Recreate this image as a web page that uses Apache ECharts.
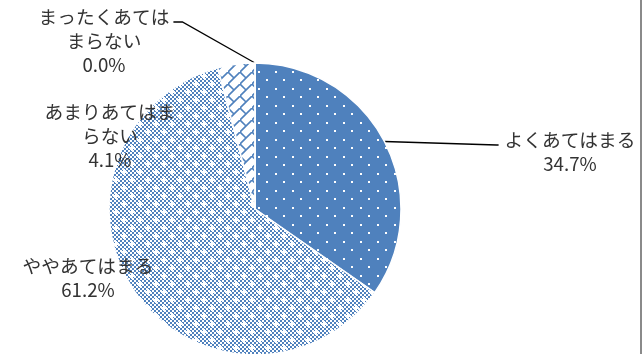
<!DOCTYPE html>
<html>
<head>
<meta charset="utf-8">
<script src="https://cdn.jsdelivr.net/npm/echarts@6/dist/echarts.min.js"></script>
<style>
html, body { margin: 0; padding: 0; background: #fff; }
#chart { width: 643px; height: 354px; }
</style>
</head>
<body>
<div id="chart"></div>
<script>
// 回答の分類と割合(%)
var categories = ['よくあてはまる', 'ややあてはまる', 'あまりあてはまらない', 'まったくあてはまらない'];
var labelText = ['よくあてはまる', 'ややあてはまる', 'あまりあてはま\nらない', 'まったくあては\nまらない'];
var values = [34.7, 61.2, 4.1, 0.0];

var BLUE = '#4f81bd';

// small canvas tiles used as pattern fills
function makeTile(w, h, draw) {
  var c = document.createElement('canvas');
  c.width = w;
  c.height = h;
  draw(c.getContext('2d'), w, h);
  return { image: c, repeat: 'repeat' };
}

var dots = makeTile(17, 17, function (g, w, h) {
  g.fillStyle = BLUE;
  g.fillRect(0, 0, w, h);
  g.fillStyle = '#fff';
  g.fillRect(3, 3, 2, 2);
  g.fillRect(11, 11, 2, 2);
});

var checker = makeTile(16, 16, function (g, w, h) {
  g.fillStyle = '#fff';
  g.fillRect(0, 0, w, h);
  g.fillStyle = BLUE;
  for (var y = 0; y < h; y += 2) {
    for (var x = 0; x < w; x += 2) {
      if (((x + y) / 2) % 2 === 0) g.fillRect(x, y, 2, 2);
    }
  }
  g.fillStyle = '#fff';
  [[4, 4], [12, 12]].forEach(function (p) {
    g.fillRect(p[0] - 1, p[1] - 3, 2, 6);
    g.fillRect(p[0] - 3, p[1] - 1, 6, 2);
  });
});

var brick = makeTile(12, 12, function (g, w, h) {
  g.fillStyle = '#fff';
  g.fillRect(0, 0, w, h);
  g.strokeStyle = BLUE;
  g.lineWidth = 1.6;
  g.beginPath();
  g.moveTo(-1, 13); g.lineTo(13, -1);
  g.moveTo(0, 0); g.lineTo(6, 6);
  g.moveTo(12, 12); g.lineTo(13, 13);
  g.stroke();
});

var fills = [dots, checker, brick, brick];
var showLine = [true, false, false, true];
// label block centres
var labelPos = [[570, 152], [88, 278], [110, 136], [104, 41]];

var chart = echarts.init(document.getElementById('chart'));

chart.setOption({
  animation: false,
  backgroundColor: '#fff',
  graphic: [
    { type: 'rect', shape: { x: 640, y: 0, width: 2, height: 354 }, style: { fill: '#8a8a8a' } }
  ],
  series: [
    {
      type: 'pie',
      center: [255, 209],
      radius: 146,
      startAngle: 90,
      clockwise: true,
      avoidLabelOverlap: false,
      itemStyle: { borderColor: '#fff', borderWidth: 1.5 },
      emphasis: { disabled: true },
      label: {
        show: true,
        position: 'outside',
        formatter: function (p) {
          return labelText[p.dataIndex] + '\n' + p.value.toFixed(1) + '%';
        },
        color: '#333',
        fontSize: 18.7,
        lineHeight: 24,
        fontFamily: 'Noto Sans CJK JP'
      },
      labelLine: { lineStyle: { color: '#000', width: 1.3 }, length: 10, length2: 10 },
      labelLayout: function (p) {
        var i = p.dataIndex;
        var pos = labelPos[i];
        var out = { x: pos[0], y: pos[1], align: 'center', verticalAlign: 'middle' };
        if (showLine[i] && p.labelLinePoints) {
          var w = p.labelRect.width;
          var h = p.labelRect.height;
          var ly = pos[1] - h / 2 + 12 + 5;
          var start = p.labelLinePoints[0];
          if (start[0] < pos[0]) {
            var left = pos[0] - w / 2;
            out.labelLinePoints = [start, [left - 8, ly], [left - 6, ly]];
          } else {
            var right = pos[0] + w / 2;
            out.labelLinePoints = [start, [right + 13, ly], [right + 4, ly]];
          }
        }
        return out;
      },
      data: values.map(function (v, i) {
        return {
          name: categories[i],
          value: v,
          itemStyle: { color: fills[i] },
          labelLine: { show: showLine[i] }
        };
      })
    }
  ]
});
</script>
</body>
</html>
